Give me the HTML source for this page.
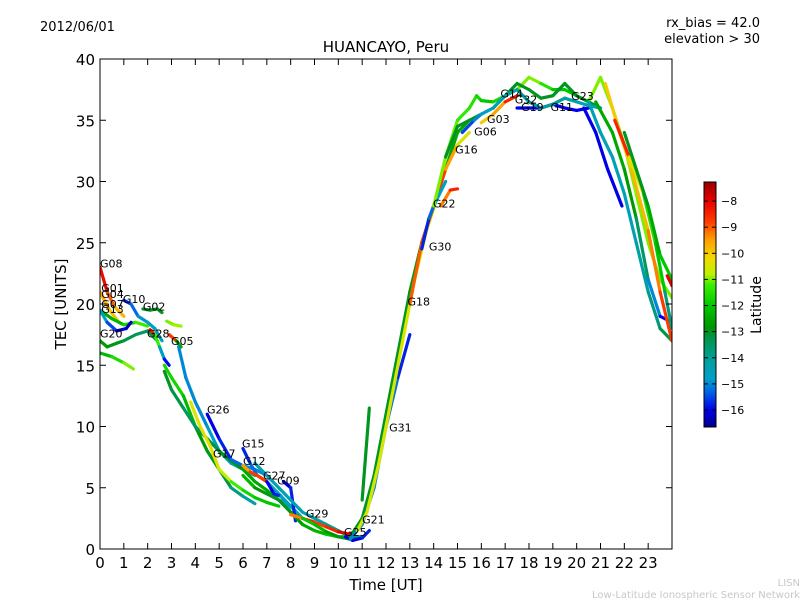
<!DOCTYPE html>
<html><head><meta charset="utf-8"><style>
body{margin:0;background:#fff;}
svg text{font-family:"DejaVu Sans","Liberation Sans",sans-serif;}
</style></head><body>
<svg id="c" width="800" height="600" xmlns="http://www.w3.org/2000/svg">
<rect width="800" height="600" fill="#fff"/>
<defs><linearGradient id="jet" x1="0" y1="1" x2="0" y2="0"></linearGradient><clipPath id="pc"><rect x="100" y="59" width="572" height="490"/></clipPath></defs>
<text x="40" y="31" font-size="13">2012/06/01</text>
<text x="760" y="27" font-size="13" text-anchor="end">rx_bias = 42.0</text>
<text x="760" y="43" font-size="13" text-anchor="end">elevation &gt; 30</text>
<text x="386" y="52" font-size="15" text-anchor="middle">HUANCAYO, Peru</text>
<text x="386" y="590" font-size="15" text-anchor="middle">Time [UT]</text>
<text transform="translate(66,304) rotate(-90)" font-size="15" text-anchor="middle">TEC [UNITS]</text>
<text x="800" y="586" font-size="10" fill="#c8c8c8" text-anchor="end">LISN</text>
<text x="800" y="598" font-size="10" fill="#c8c8c8" text-anchor="end">Low-Latitude Ionospheric Sensor Network</text>
<g id="marks" clip-path="url(#pc)"></g>
<g id="labels"></g>
<rect x="100" y="59" width="572" height="490" fill="none" stroke="#000" stroke-width="1"/>
<g id="axes"></g>
<rect x="704" y="182" width="12" height="245" fill="url(#jet)" stroke="#000" stroke-width="1"/>
<g id="cbar"></g>
<text transform="translate(761,305) rotate(-90)" font-size="14" text-anchor="middle">Latitude</text>
</svg>
<script>
const xTicks=[0,1,2,3,4,5,6,7,8,9,10,11,12,13,14,15,16,17,18,19,20,21,22,23];
const yTicks=[0,5,10,15,20,25,30,35,40];
const cbTicks=[-8,-9,-10,-11,-12,-13,-14,-15,-16];
const latMin=-16.65, latMax=-7.27;
const tracks=[
{t:[0,0.3,0.6,1],v:[23,21,19.8,19],lat:[-7.8,-8.5,-9.5,-10]},
{t:[0,0.4,0.8],v:[21,19.5,18.5],lat:[-9.5,-9.8,-10]},
{t:[0,0.5,1,1.5,2],v:[19.5,18.8,18.3,18.5,18.2],lat:[-12.5,-12.5,-12,-11.5,-11]},
{t:[0,0.3,0.7,1.1,1.3],v:[19.5,18.5,17.8,18,18.5],lat:[-14.5,-15,-16,-16.3,-16.3]},
{t:[0,0.3,0.7,1,1.5,2,2.4],v:[17,16.5,16.8,17,17.5,17.8,17],lat:[-12.5,-12.8,-13,-13,-13.5,-13.5,-13]},
{t:[0,0.5,1,1.4],v:[16,15.7,15.2,14.7],lat:[-12.5,-12,-11.2,-10.8]},
{t:[1,1.3,1.6,2,2.3,2.6],v:[20.3,20,19,18.5,18,17],lat:[-16,-15.5,-15,-14.8,-14.5,-14.5]},
{t:[1.8,2.1,2.4,2.6],v:[19.6,19.5,19.6,19.3],lat:[-13.2,-13,-13,-13]},
{t:[2.8,3.1,3.4],v:[18.6,18.3,18.2],lat:[-11,-11,-10.8]},
{t:[2.1,2.3,2.5,2.7,2.9],v:[17.9,17.5,16.5,15.5,15],lat:[-8.2,-8.5,-14,-15.5,-16.3]},
{t:[2.9,3.2,3.4],v:[17.5,17,16.5],lat:[-8.5,-9,-16]},
{t:[2.7,3,3.5,4,4.5,5,5.5,6,6.5],v:[15,14,12.5,10,8,6.5,5,4.3,3.7],lat:[-12,-11.5,-12,-12.5,-13,-13,-13.5,-14,-14.5]},
{t:[3.3,3.6,4,4.5,5,5.5,6,6.5],v:[16.5,14,12,10,8,7,6.5,6],lat:[-15,-15,-15,-15,-14.5,-14.5,-14.5,-14.5]},
{t:[2.7,3,3.5,4,4.5,5,5.5,6,6.5,7,7.5,8],v:[14.5,13,11.5,10,9,8,7.2,6.5,5.5,4.8,4,3.5],lat:[-13,-13,-13.5,-13.5,-13.5,-13,-13,-12.5,-12.5,-12.5,-12.5,-12.5]},
{t:[3.8,4.2,4.6,5,5.5,6,6.5,7,7.5],v:[12,10,8.5,6.5,5.5,4.8,4.2,3.8,3.5],lat:[-10.5,-10.5,-10.2,-10.5,-11,-11.5,-12,-12,-12]},
{t:[4.5,5,5.5,6,6.5,7],v:[11,9,7.3,6.8,6.5,6],lat:[-16,-16,-15.5,-15,-15,-15]},
{t:[6,6.3,6.6,7,7.5,8,8.5],v:[8.2,7,6,5.5,4.5,3.5,2.5],lat:[-16,-15.5,-15,-14.8,-14.5,-14.5,-14.5]},
{t:[6,6.3,6.6,7],v:[6.8,6.3,6,5.5],lat:[-10,-9,-8.5,-9]},
{t:[7,7.3,7.6,8,8.5],v:[5.5,4.5,4.3,3,2.5],lat:[-16,-16,-15.5,-14,-13]},
{t:[7.7,8,8.2],v:[5.5,5,2.3],lat:[-16,-16,-15.5]},
{t:[6,6.5,7,7.5,8,8.5,9,9.5,10,10.5],v:[6,5,4.5,4,3,2,1.5,1.2,1,1],lat:[-12,-12.5,-13,-13,-13,-12.5,-12.5,-12,-12,-12]},
{t:[6.5,7,7.5,8,8.5,9,9.5,10,10.5,11],v:[7,6,5,4,3,2.5,2,1.5,1,1],lat:[-14.5,-14.5,-14.5,-14.5,-14.5,-14.5,-14,-14,-14,-14]},
{t:[8,8.5,9,9.5,10,10.5],v:[2.8,2.5,2.2,1.8,1.4,1.2],lat:[-10,-8.5,-8.5,-9,-8,-8]},
{t:[8.5,9,9.5,10,10.5,11],v:[2.5,2,1.4,1,0.8,0.9],lat:[-12,-12,-12.5,-13,-13,-13]},
{t:[10.3,10.6,11,11.3],v:[1,0.7,0.9,1.5],lat:[-16,-16,-16,-15.5]},
{t:[10.7,11,11.2],v:[1.5,2.5,3.2],lat:[-8.5,-8.3,-8.3]},
{t:[10.5,11,11.5,12,12.5,13,13.5,14,14.5,15,15.5],v:[1,2.5,6,11,16,21,25,28,31,34,35],lat:[-13,-13,-13,-13,-13,-13,-12.8,-12.5,-12.5,-12.5,-12.5]},
{t:[10.5,11,11.5,12,12.5,13],v:[0.8,2,5,10,14,17.5],lat:[-15,-15,-15,-15,-15.5,-16]},
{t:[11,11.3],v:[4,11.5],lat:[-13,-13]},
{t:[10.8,11.2,11.7,12.2,12.7,13.2,13.7,14.2],v:[1.5,3,7,12,17,22,26,29],lat:[-10.5,-10.5,-10.5,-10.5,-10.5,-10.5,-10.5,-10.5]},
{t:[13,13.5,14,14.5,15,15.5],v:[20,25,28,31,33,34],lat:[-9,-9,-8.5,-9,-10,-11]},
{t:[13.5,13.8,14,14.5],v:[24.5,27,28,30],lat:[-16,-15.5,-15,-14.5]},
{t:[14.3,14.7,15],v:[28,29.3,29.4],lat:[-9.5,-9,-8]},
{t:[14,14.5,15,15.5,15.8,16,16.5,17,17.5,18,18.5,19,19.5,20,20.5,21],v:[28,32,35,36,37,36.6,36.5,37,37.5,38.5,38,37.5,37.5,37,36.5,38.5],lat:[-11,-11,-11.2,-11.5,-11.5,-12,-12,-11.5,-11,-11,-11,-12,-12,-12,-11,-11]},
{t:[14.5,15,15.5,16,16.5,17,17.5,18,18.5,19,19.5,20,20.5,21],v:[32,34.5,35,35.5,36,37,38,37.5,36.8,37,38,37,36.5,36],lat:[-13,-13,-13,-13,-13,-13,-13,-13,-13,-13,-13,-13,-13,-13]},
{t:[15.2,15.7,16,16.5,17,17.5,18],v:[34,35,35.5,36,37,37.5,36.5],lat:[-16,-15,-15,-14.5,-14.5,-14.5,-14]},
{t:[16,16.5,17,17.5],v:[34.8,35.5,36.5,37],lat:[-10,-10,-9,-8]},
{t:[17.5,18,18.5,19,19.5,20,20.5],v:[36,36,36,36.3,36,35.8,36],lat:[-16,-16,-16,-16,-16,-16,-16]},
{t:[18,18.5,19,19.5,20,20.5,21],v:[36.5,36,36.3,36.8,36.5,36.2,36],lat:[-14,-14,-14,-14,-14.5,-14.5,-14.5]},
{t:[20.3,20.8,21.3,21.9],v:[36,34,31,28],lat:[-16,-16,-16,-16]},
{t:[20.5,21,21.5,22,22.5,23,23.5,24],v:[36.5,34,32,29,25,21,18,17],lat:[-14.5,-14.5,-14.5,-14.5,-14.5,-14,-13.5,-13]},
{t:[20.8,21.5,22,22.5,23,23.5,24],v:[36.5,34,31,27,22,19,18.5],lat:[-12.5,-12.5,-12.5,-13,-14,-16,-16]},
{t:[21,21.5,22,22.5,23,23.5,24],v:[38.5,36,33,29,25,22,20.5],lat:[-11,-11,-11,-11,-11,-11,-11]},
{t:[21.2,21.8,22.3,23,23.5,24],v:[38,34,31,26,21,17],lat:[-10,-10,-10,-9.5,-9,-8.5]},
{t:[21.6,22.2,22.8,23.3,23.7,24],v:[35,32,29,25,21,18],lat:[-8,-9,-12,-11,-13,-14.5]},
{t:[22,22.5,23,23.5,24],v:[34,31,28,24,22],lat:[-13,-13,-13,-12,-12]},
{t:[23.8,24],v:[22.3,21.5],lat:[-8,-8]}
];
const satLabels=["G08","G01","G04","G07","G13","G10","G02","G20","G28","G05","G26","G15","G17","G12","G27","G09","G29","G25","G21","G31","G18","G30","G22","G16","G06","G03","G14","G32","G19","G11","G23"];
const labelT=[0,0.05,0.05,0.05,0.05,0.96,1.8,0,1.97,2.98,4.49,5.96,4.74,6.0,6.84,7.43,8.64,10.24,11.0,12.13,12.9,13.8,13.97,14.9,15.7,16.24,16.8,17.4,17.67,18.9,19.77];
const labelV=[23.3,21.3,20.8,20.0,19.6,20.4,19.8,17.6,17.6,17.0,11.4,8.6,7.8,7.2,6.0,5.6,2.9,1.4,2.4,9.9,20.2,24.7,28.2,32.6,34.1,35.1,37.2,36.7,36.1,36.1,37.0];
const X=h=>100+h*572/24, Y=v=>549-v*490/40;
const NS="http://www.w3.org/2000/svg";
const cmLat=[-16.65,-16,-15.3,-14.8,-14,-13.3,-12.8,-12,-11.2,-10.8,-10.2,-9.5,-8.8,-8,-7.27];
const cmRGB=[[0,0,140],[0,0,230],[0,100,230],[0,160,200],[0,160,150],[0,150,80],[0,150,0],[0,200,0],[60,240,0],[190,240,0],[240,220,0],[255,160,0],[255,60,0],[230,0,0],[150,0,0]];
function cmap(la){
 if(la<=cmLat[0])return `rgb(${cmRGB[0]})`;
 for(let i=0;i<cmLat.length-1;i++){if(la<=cmLat[i+1]){const f=(la-cmLat[i])/(cmLat[i+1]-cmLat[i]);const c=cmRGB[i].map((a,j)=>Math.round(a+f*(cmRGB[i+1][j]-a)));return `rgb(${c})`;}}
 return `rgb(${cmRGB[cmRGB.length-1]})`;
}
const grad=document.getElementById('jet');
cmLat.forEach((la,i)=>{const s=document.createElementNS(NS,'stop');s.setAttribute('offset',(la-latMin)/(latMax-latMin));s.setAttribute('stop-color',`rgb(${cmRGB[i]})`);grad.appendChild(s);});
const marks=document.getElementById('marks');
tracks.forEach((tr,i)=>{
 const g=document.createElementNS(NS,'g');
 
 
 for(let k=0;k<tr.t.length-1;k++){
  const l=document.createElementNS(NS,'line');
  l.setAttribute('x1',X(tr.t[k]));l.setAttribute('y1',Y(tr.v[k]));
  l.setAttribute('x2',X(tr.t[k+1]));l.setAttribute('y2',Y(tr.v[k+1]));
  const la=(tr.lat[k]+tr.lat[k+1])/2;
  l.setAttribute('stroke',cmap(la));
  l.setAttribute('stroke-width','3.2');l.setAttribute('stroke-linecap','round');
  
  
  g.appendChild(l);
 }
 marks.appendChild(g);
});
const lg=document.getElementById('labels');
satLabels.forEach((s,i)=>{
 const t=document.createElementNS(NS,'text');
 t.setAttribute('x',X(labelT[i]));t.setAttribute('y',Y(labelV[i])+4);
 t.setAttribute('font-size','11');t.textContent=s;
 
 
 lg.appendChild(t);
});
const ax=document.getElementById('axes');
function ln(x1,y1,x2,y2,p){const l=document.createElementNS(NS,'line');l.setAttribute('x1',x1);l.setAttribute('y1',y1);l.setAttribute('x2',x2);l.setAttribute('y2',y2);l.setAttribute('stroke','#000');l.setAttribute('stroke-width','1');p.appendChild(l);return l;}
function tx(x,y,s,fs,anchor,p){const t=document.createElementNS(NS,'text');t.setAttribute('x',x);t.setAttribute('y',y);t.setAttribute('font-size',fs);t.setAttribute('text-anchor',anchor);t.textContent=s;p.appendChild(t);return t;}
xTicks.forEach(h=>{
 const a=ln(X(h),549,X(h),543,ax);
 const b=ln(X(h),59,X(h),65,ax);
 const t=tx(X(h),568,String(h),15,'middle',ax);
});
yTicks.forEach(v=>{
 const a=ln(100,Y(v),106,Y(v),ax);
 const b=ln(672,Y(v),666,Y(v),ax);
 const t=tx(95,Y(v)+6,String(v),15,'end',ax);
});
const cb=document.getElementById('cbar');
cbTicks.forEach(v=>{
 const y=427-(v-latMin)/(latMax-latMin)*245;
 const a=ln(704,y,708,y,cb);
 const b=ln(716,y,712,y,cb);
 const t=tx(721,y+4,'\u2212'+Math.abs(v),11,'start',cb);
});
</script>
</body></html>
